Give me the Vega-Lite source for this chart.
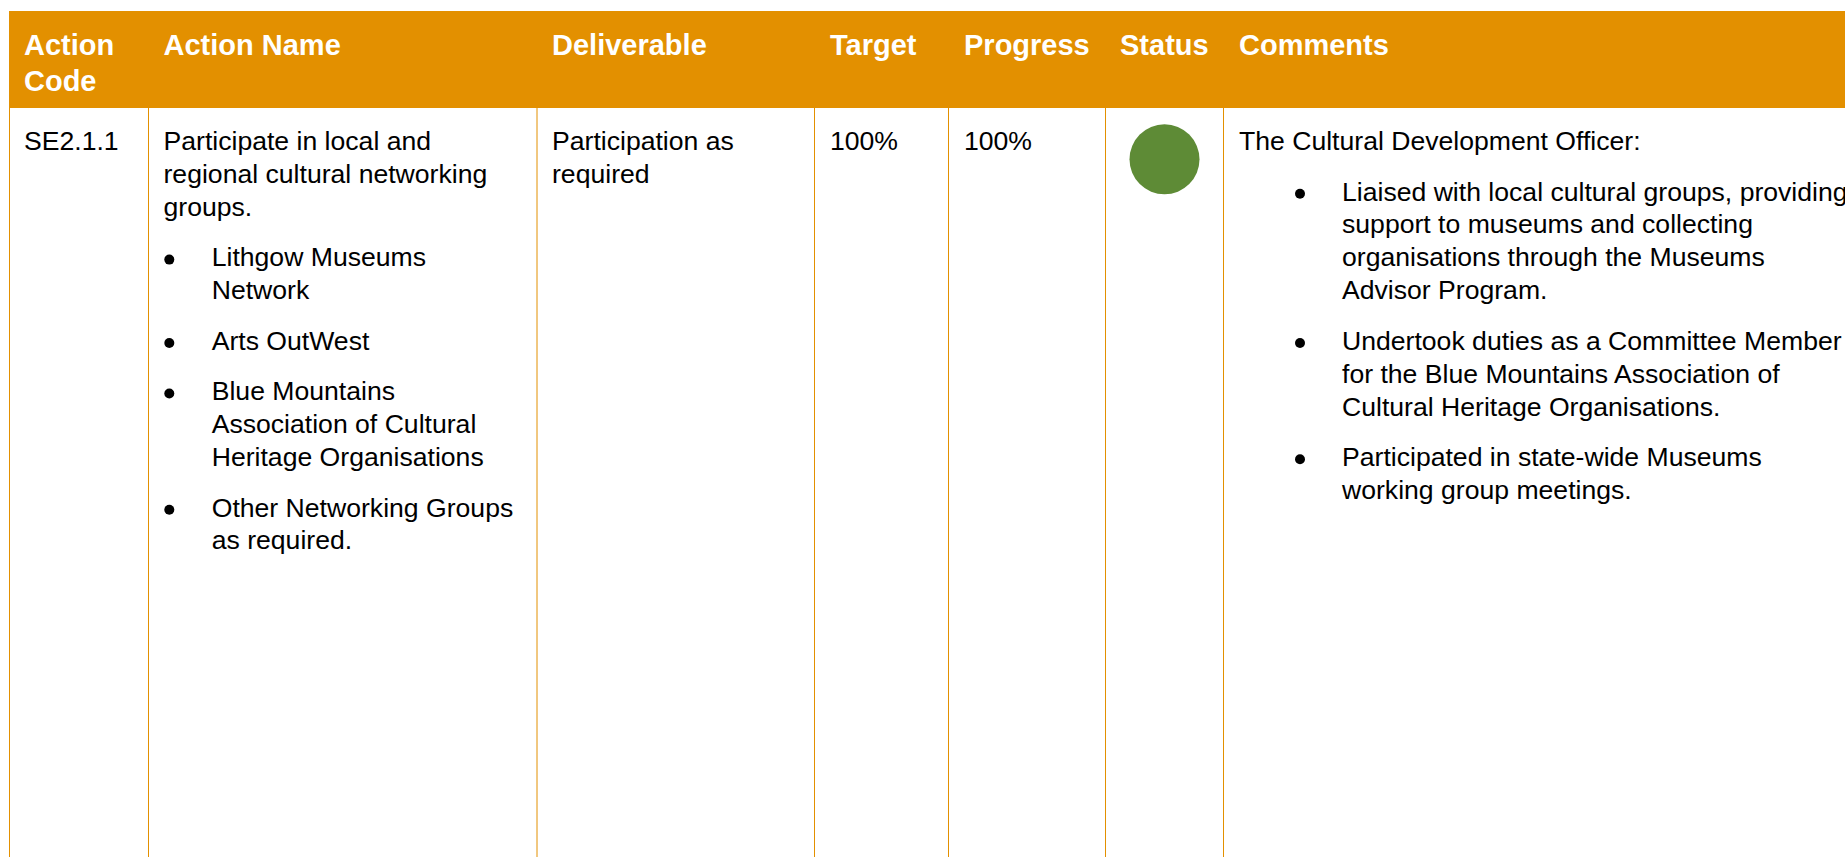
{
  "$schema": "https://vega.github.io/schema/vega-lite/v6.json",
  "width": 1845,
  "height": 857,
  "padding": 0,
  "autosize": {"type": "none"},
  "background": "white",
  "config": {"view": {"stroke": null}, "font": "Liberation Sans"},
  "datasets": {
    "header_band": [{"c0": 0, "c1": 7, "r0": 0, "r1": 1}],
    "borders": [{"boundary": 0}, {"boundary": 1}, {"boundary": 2}, {"boundary": 3}, {"boundary": 4}, {"boundary": 5}, {"boundary": 6}],
    "header_text": [
      {"tab": 0, "line": 0, "text": "Action"},
      {"tab": 0, "line": 1, "text": "Code"},
      {"tab": 1, "line": 0, "text": "Action Name"},
      {"tab": 4, "line": 0, "text": "Deliverable"},
      {"tab": 5, "line": 0, "text": "Target"},
      {"tab": 6, "line": 0, "text": "Progress"},
      {"tab": 7, "line": 0, "text": "Status"},
      {"tab": 9, "line": 0, "text": "Comments"}
    ],
    "body_text": [
      {"tab": 0, "line": 0, "para": 0, "text": "SE2.1.1"},
      {"tab": 1, "line": 0, "para": 0, "text": "Participate in local and"},
      {"tab": 1, "line": 1, "para": 0, "text": "regional cultural networking"},
      {"tab": 1, "line": 2, "para": 0, "text": "groups."},
      {"tab": 3, "line": 3, "para": 1, "text": "Lithgow Museums"},
      {"tab": 3, "line": 4, "para": 1, "text": "Network"},
      {"tab": 3, "line": 5, "para": 2, "text": "Arts OutWest"},
      {"tab": 3, "line": 6, "para": 3, "text": "Blue Mountains"},
      {"tab": 3, "line": 7, "para": 3, "text": "Association of Cultural"},
      {"tab": 3, "line": 8, "para": 3, "text": "Heritage Organisations"},
      {"tab": 3, "line": 9, "para": 4, "text": "Other Networking Groups"},
      {"tab": 3, "line": 10, "para": 4, "text": "as required."},
      {"tab": 4, "line": 0, "para": 0, "text": "Participation as"},
      {"tab": 4, "line": 1, "para": 0, "text": "required"},
      {"tab": 5, "line": 0, "para": 0, "text": "100%"},
      {"tab": 6, "line": 0, "para": 0, "text": "100%"},
      {"tab": 9, "line": 0, "para": 0, "text": "The Cultural Development Officer:"},
      {"tab": 11, "line": 1, "para": 1, "text": "Liaised with local cultural groups, providing"},
      {"tab": 11, "line": 2, "para": 1, "text": "support to museums and collecting"},
      {"tab": 11, "line": 3, "para": 1, "text": "organisations through the Museums"},
      {"tab": 11, "line": 4, "para": 1, "text": "Advisor Program."},
      {"tab": 11, "line": 5, "para": 2, "text": "Undertook duties as a Committee Member"},
      {"tab": 11, "line": 6, "para": 2, "text": "for the Blue Mountains Association of"},
      {"tab": 11, "line": 7, "para": 2, "text": "Cultural Heritage Organisations."},
      {"tab": 11, "line": 8, "para": 3, "text": "Participated in state-wide Museums"},
      {"tab": 11, "line": 9, "para": 3, "text": "working group meetings."}
    ],
    "bullets": [
      {"tab": 2, "line": 3, "para": 1},
      {"tab": 2, "line": 5, "para": 2},
      {"tab": 2, "line": 6, "para": 3},
      {"tab": 2, "line": 9, "para": 4},
      {"tab": 10, "line": 1, "para": 1},
      {"tab": 10, "line": 5, "para": 2},
      {"tab": 10, "line": 8, "para": 3}
    ],
    "status": [{"tab": 8, "line": 0, "status": "Complete"}]
  },
  "layer": [
    {
      "data": {"name": "header_band"},
      "mark": {"type": "rect", "fill": "#E39000"},
      "encoding": {
        "x": {"field": "c0", "type": "quantitative", "axis": null, "scale": {"domain": [0, 1, 2, 3, 4, 5, 6, 7], "range": [9, 148.5, 537, 814.5, 948.5, 1105.5, 1223.5, 1846], "nice": false, "zero": false}},
        "x2": {"field": "c1"},
        "y": {"field": "r0", "type": "quantitative", "axis": null, "scale": {"domain": [0, 1, 2], "range": [11, 108, 900], "nice": false, "zero": false}},
        "y2": {"field": "r1"}
      }
    },
    {
      "data": {"name": "borders"},
      "mark": {"type": "rule", "stroke": "#E39000", "strokeWidth": 1},
      "encoding": {
        "x": {"field": "boundary", "type": "quantitative", "axis": null, "scale": {"domain": [0, 1, 2, 3, 4, 5, 6, 7], "range": [9.5, 148.5, 537, 814.5, 948.5, 1105.5, 1223.5, 1846], "nice": false, "zero": false}},
        "y": {"datum": 1, "type": "quantitative", "axis": null, "scale": {"domain": [0, 1, 2], "range": [11, 107, 900], "nice": false, "zero": false}},
        "y2": {"datum": 2}
      }
    },
    {
      "data": {"name": "header_text"},
      "mark": {"type": "text", "align": "left", "baseline": "alphabetic", "fontSize": 29, "fontWeight": "bold", "fill": "#FFFFFF"},
      "encoding": {
        "x": {"field": "tab", "type": "quantitative", "axis": null, "scale": {"domain": [0, 1, 2, 3, 4, 5, 6, 7, 8, 9, 10, 11], "range": [24, 163.5, 169.3, 211.7, 552, 830, 964, 1120, 1164.5, 1239, 1300, 1342], "nice": false, "zero": false}},
        "y": {"field": "line", "type": "quantitative", "axis": null, "scale": {"domain": [0, 1], "range": [55, 90.7], "nice": false, "zero": false}},
        "text": {"field": "text"}
      }
    },
    {
      "data": {"name": "body_text"},
      "mark": {"type": "text", "align": "left", "baseline": "alphabetic", "fontSize": 26.6, "fill": "#000000"},
      "encoding": {
        "x": {"field": "tab", "type": "quantitative", "axis": null, "scale": {"domain": [0, 1, 2, 3, 4, 5, 6, 7, 8, 9, 10, 11], "range": [24, 163.5, 169.3, 211.7, 552, 830, 964, 1120, 1164.5, 1239, 1300, 1342], "nice": false, "zero": false}},
        "y": {"field": "line", "type": "ordinal", "axis": null, "scale": {"type": "point", "domain": [0, 1, 2, 3, 4, 5, 6, 7, 8, 9, 10], "range": [150, 479], "padding": 0}},
        "yOffset": {"field": "para", "type": "quantitative", "scale": {"domain": [0, 4], "range": [0, 70.4], "nice": false, "zero": false}},
        "text": {"field": "text"}
      }
    },
    {
      "data": {"name": "bullets"},
      "mark": {"type": "point", "shape": "circle", "filled": true, "fill": "#000000", "size": 100, "opacity": 1, "strokeWidth": 0},
      "encoding": {
        "x": {"field": "tab", "type": "quantitative", "axis": null, "scale": {"domain": [0, 1, 2, 3, 4, 5, 6, 7, 8, 9, 10, 11], "range": [24, 163.5, 169.3, 211.7, 552, 830, 964, 1120, 1164.5, 1239, 1300, 1342], "nice": false, "zero": false}},
        "y": {"field": "line", "type": "ordinal", "axis": null, "scale": {"type": "point", "domain": [0, 1, 2, 3, 4, 5, 6, 7, 8, 9, 10], "range": [143.3, 472.3], "padding": 0}},
        "yOffset": {"field": "para", "type": "quantitative", "scale": {"domain": [0, 4], "range": [0, 70.4], "nice": false, "zero": false}}
      }
    },
    {
      "data": {"name": "status"},
      "mark": {"type": "point", "shape": "circle", "filled": true, "size": 4900, "opacity": 1, "strokeWidth": 0},
      "encoding": {
        "x": {"field": "tab", "type": "quantitative", "axis": null, "scale": {"domain": [0, 1, 2, 3, 4, 5, 6, 7, 8, 9, 10, 11], "range": [24, 163.5, 169.3, 211.7, 552, 830, 964, 1120, 1164.5, 1239, 1300, 1342], "nice": false, "zero": false}},
        "y": {"field": "line", "type": "quantitative", "axis": null, "scale": {"domain": [0, 1], "range": [159.3, 192.2], "nice": false, "zero": false}},
        "color": {"field": "status", "type": "nominal", "legend": null, "scale": {"domain": ["Complete"], "range": ["#5E8B36"]}}
      }
    }
  ],
  "resolve": {"scale": {"x": "independent", "y": "independent", "yOffset": "independent"}}
}
